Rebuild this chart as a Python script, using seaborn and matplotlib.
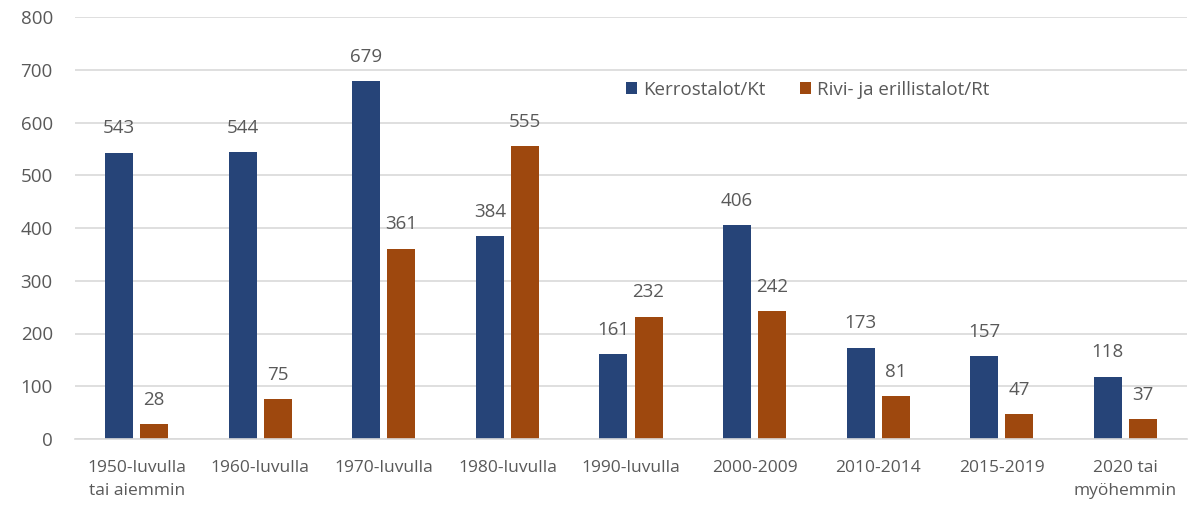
import matplotlib
matplotlib.use("Agg")
import matplotlib.pyplot as plt
import seaborn as sns
import pandas as pd

categories = ["1950-luvulla\ntai aiemmin", "1960-luvulla", "1970-luvulla", "1980-luvulla",
              "1990-luvulla", "2000-2009", "2010-2014", "2015-2019", "2020 tai\nmyöhemmin"]
kerrostalot = [543, 544, 679, 384, 161, 406, 173, 157, 118]
rivitalot = [28, 75, 361, 555, 232, 242, 81, 47, 37]
series_names = ["Kerrostalot/Kt", "Rivi- ja erillistalot/Rt"]
colors = ["#264478", "#9E480E"]

df = pd.DataFrame({
    "cat": categories * 2,
    "value": kerrostalot + rivitalot,
    "series": [series_names[0]] * len(categories) + [series_names[1]] * len(categories),
})

sns.set_theme(style="white")
plt.rcParams["font.family"] = ["Open Sans", "DejaVu Sans"]
text_color = "#595959"

fig = plt.figure(figsize=(11.97, 5.05), dpi=100)
ax = fig.add_axes([75/1197, 1 - 439/505, (1187-75)/1197, (439-17)/505])

sns.barplot(data=df, x="cat", y="value", hue="series", palette=colors,
            width=0.567, gap=0.2, ax=ax, saturation=1, legend=True,
            edgecolor="none", linewidth=0)

ax.set_ylim(0, 800)
ax.set_xlim(-0.5, len(categories) - 0.5)
ax.set_yticks(range(0, 801, 100))
ax.yaxis.grid(True, color="#d9d9d9", linewidth=1.2)
ax.set_axisbelow(True)
for s in ["top", "right", "left"]:
    ax.spines[s].set_visible(False)
ax.spines["bottom"].set_color("#d9d9d9")
ax.spines["bottom"].set_linewidth(1.2)
ax.set_xlabel("")
ax.set_ylabel("")
ax.tick_params(axis="both", length=0, colors=text_color)
ax.tick_params(axis="y", pad=16, labelsize=13.5)
ax.tick_params(axis="x", pad=15, labelsize=12.5)
for lbl in ax.get_yticklabels():
    lbl.set_horizontalalignment("right")
for lbl in ax.get_xticklabels():
    lbl.set_linespacing(1.6)

for cont in ax.containers:
    ax.bar_label(cont, padding=11, fontsize=13.5, color=text_color)

leg = ax.legend(loc="center left", bbox_to_anchor=(0.48, 0.828), ncol=2, frameon=False,
                fontsize=13.5, handlelength=0.6, handleheight=0.6, columnspacing=1.8,
                handletextpad=0.35)
for t in leg.get_texts():
    t.set_color(text_color)

fig.savefig("out.png", dpi=100)
